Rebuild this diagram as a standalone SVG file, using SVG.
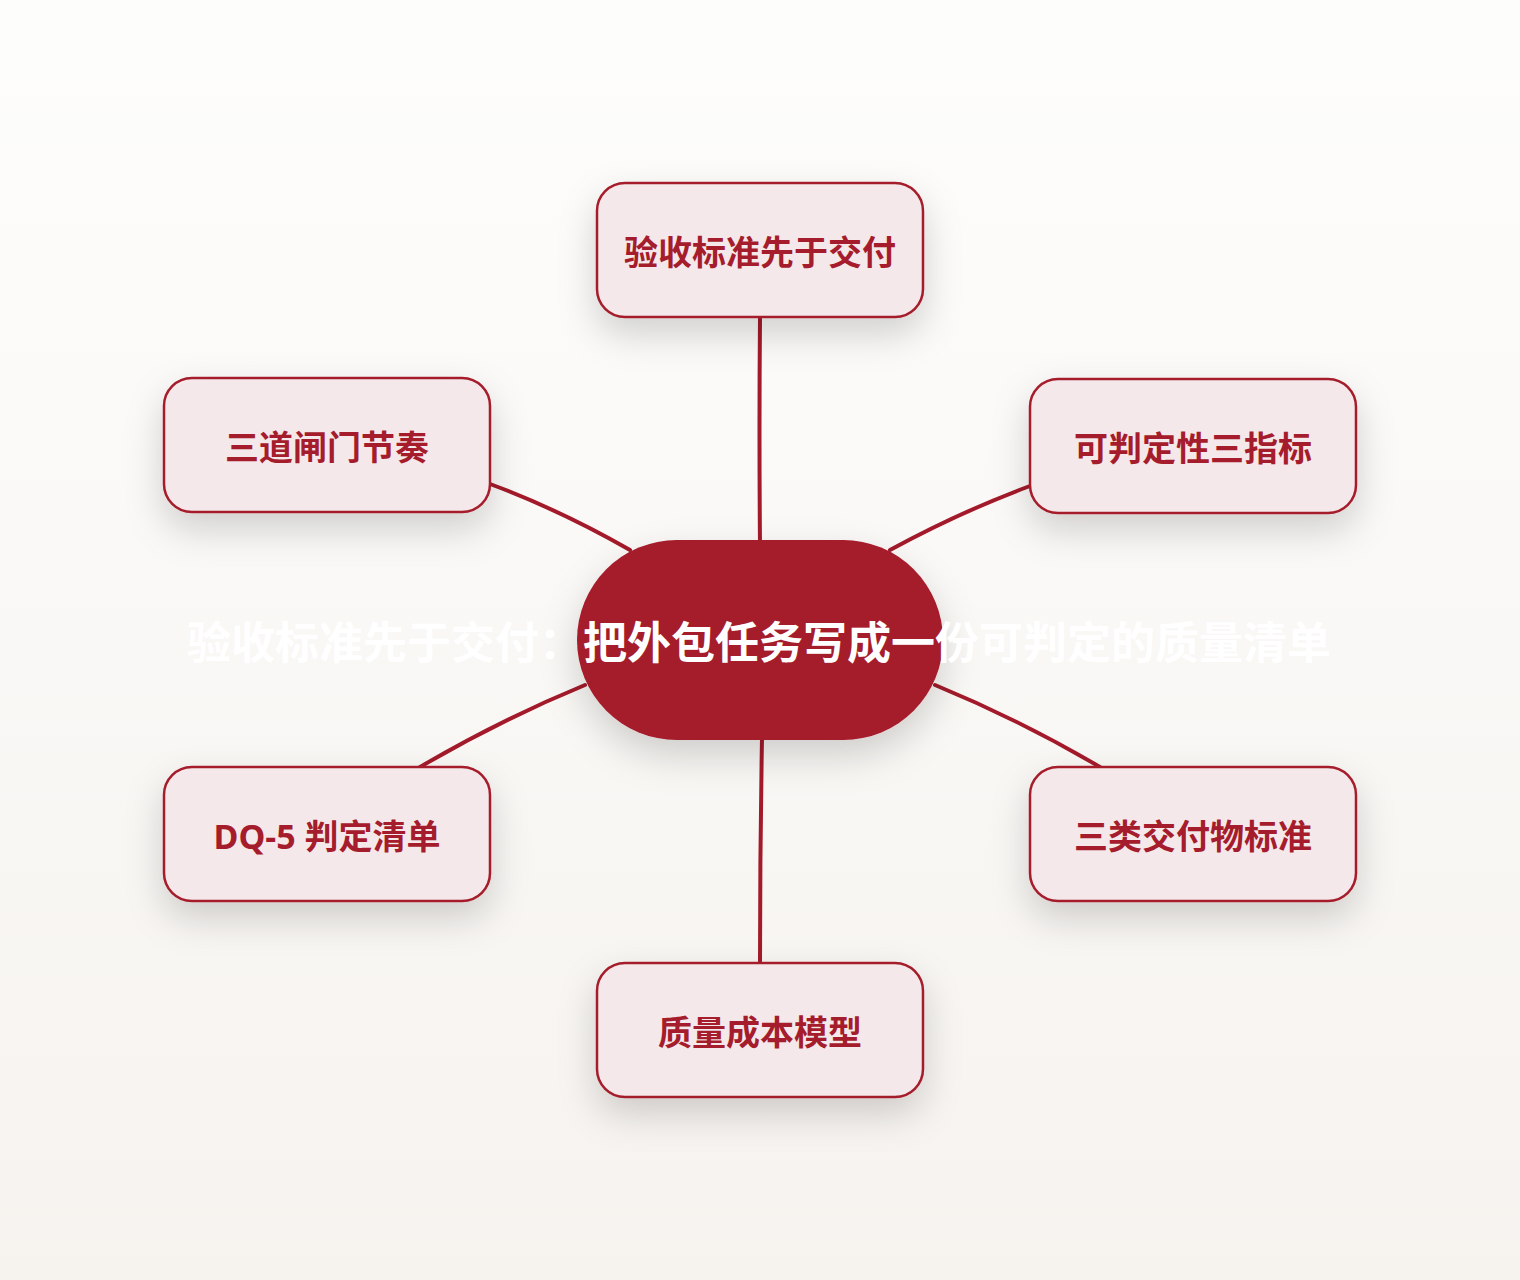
<svg xmlns="http://www.w3.org/2000/svg" width="1520" height="1280" viewBox="0 0 1520 1280">
<defs>
<linearGradient id="bg" x1="0" y1="0" x2="0" y2="1">
<stop offset="0" stop-color="#fdfdfc"/>
<stop offset="1" stop-color="#f6f3ef"/>
</linearGradient>
<filter id="sh" x="-40%" y="-50%" width="180%" height="220%">
<feDropShadow dx="0" dy="16" stdDeviation="18" flood-color="#000" flood-opacity="0.17"/>
</filter>
<style>
.node rect{fill:#f5e8ea;stroke:#a51c2c;stroke-width:2.5}
.node text{font-family:"Noto Sans","Noto Sans CJK SC",sans-serif;font-weight:700;font-size:34px;fill:#a51c2c;text-anchor:middle;dominant-baseline:central}
.conn path{fill:none;stroke:#a31a2a;stroke-width:4;stroke-linecap:round}
.center rect{fill:#a51a2a}
.center text{font-family:"Noto Sans","Noto Sans CJK SC",sans-serif;font-weight:700;font-size:44px;fill:#ffffff;text-anchor:middle;dominant-baseline:central}
</style>
</defs>
<rect width="1520" height="1280" fill="url(#bg)"/>
<g id="connectors" class="conn">
<path d="M760 317 Q759 430 760 545"/>
<path d="M490 484 Q560 510 630 550"/>
<path d="M1030 486 Q960 512 890 550"/>
<path d="M585 685 Q500 720 420 767"/>
<path d="M935 685 Q1020 720 1100 767"/>
<path d="M762 738 Q760 850 760 963"/>
</g>
<g id="node-top" class="node">
<rect x="597" y="183" width="326" height="134" rx="28" filter="url(#sh)"/>
<text x="760" y="252">验收标准先于交付</text>
</g>
<g id="node-lt" class="node">
<rect x="164" y="378" width="326" height="134" rx="28" filter="url(#sh)"/>
<text x="327" y="447">三道闸门节奏</text>
</g>
<g id="node-rt" class="node">
<rect x="1030" y="379" width="326" height="134" rx="28" filter="url(#sh)"/>
<text x="1193" y="448">可判定性三指标</text>
</g>
<g id="node-lb" class="node">
<rect x="164" y="767" width="326" height="134" rx="28" filter="url(#sh)"/>
<text x="327" y="836">DQ-5 判定清单</text>
</g>
<g id="node-rb" class="node">
<rect x="1030" y="767" width="326" height="134" rx="28" filter="url(#sh)"/>
<text x="1193" y="836">三类交付物标准</text>
</g>
<g id="node-bottom" class="node">
<rect x="597" y="963" width="326" height="134" rx="28" filter="url(#sh)"/>
<text x="760" y="1032">质量成本模型</text>
</g>
<g id="node-center" class="center">
<rect x="577" y="540" width="366" height="200" rx="100" filter="url(#sh)"/>
<text x="759" y="642">验收标准先于交付：把外包任务写成一份可判定的质量清单</text>
</g>
</svg>
